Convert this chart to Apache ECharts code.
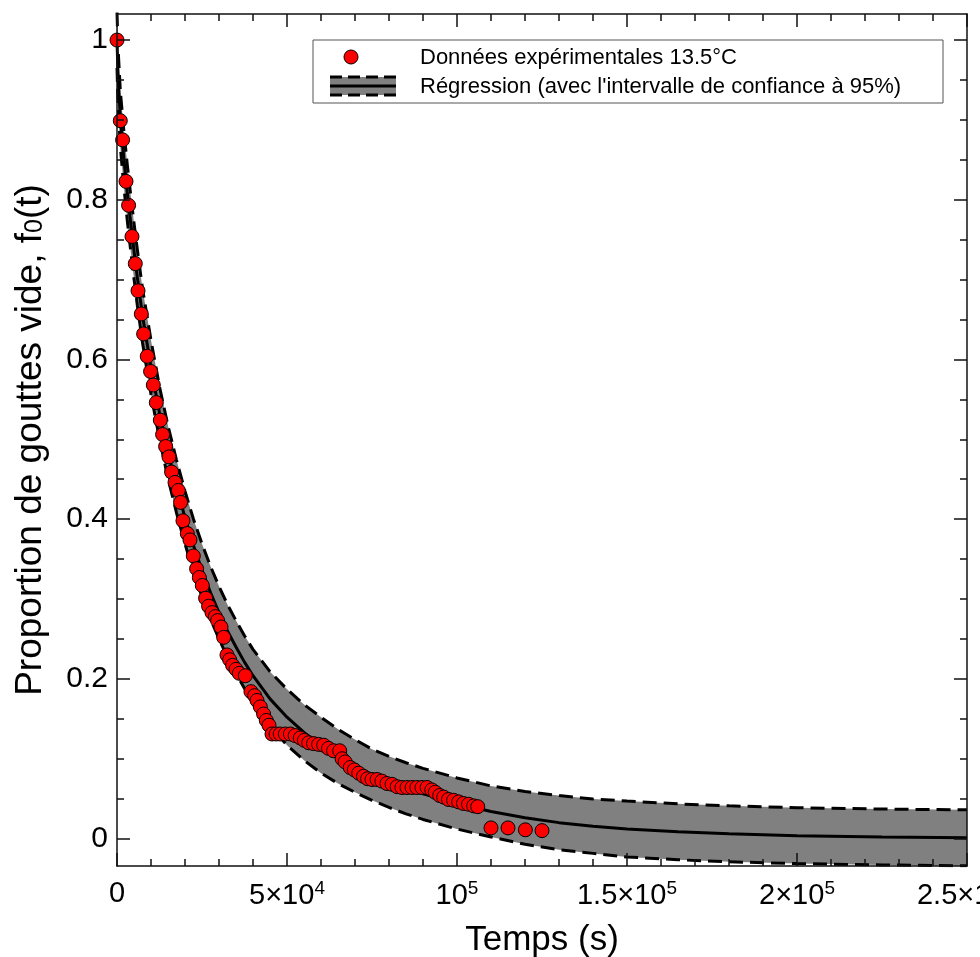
<!DOCTYPE html>
<html><head><meta charset="utf-8">
<script src="https://cdn.jsdelivr.net/npm/echarts@6/dist/echarts.min.js"></script>
<style>html,body{margin:0;padding:0;background:#fff}#c{width:980px;height:957px}</style>
</head><body><div id="c"></div>
<script>
// Experimental data (time in s, proportion of empty droplets)
const expT = [0,970,1650,2650,3410,4410,5380,6180,7150,7840,8900,9880,10680,11560,12740,13420,14300,15290,16060,17060,18030,18700,19400,20680,21470,22440,23410,24210,25090,26060,26940,27940,28910,29590,30590,31370,32350,33130,34000,35000,35970,37740,39400,40480,41180,42150,43120,43910,44700,45590,46800,48000,49500,51000,52400,53900,55100,56400,57800,59300,60800,62200,63700,65500,66200,67100,68600,69800,71100,72500,73700,75000,76500,77900,79400,80900,82400,83800,85300,86800,88200,89700,91200,92600,93600,94900,96100,97500,99000,100500,101900,103400,104900,106100,110000,115000,120100,125000];
const expF = [1.000,0.899,0.875,0.823,0.793,0.754,0.720,0.686,0.657,0.632,0.604,0.585,0.568,0.546,0.524,0.506,0.491,0.478,0.459,0.446,0.436,0.421,0.398,0.382,0.374,0.354,0.338,0.327,0.317,0.301,0.291,0.283,0.278,0.273,0.265,0.252,0.230,0.224,0.217,0.212,0.207,0.204,0.184,0.179,0.173,0.165,0.156,0.148,0.142,0.131,0.131,0.131,0.131,0.131,0.129,0.126,0.123,0.120,0.119,0.118,0.117,0.113,0.110,0.110,0.100,0.096,0.089,0.086,0.082,0.078,0.075,0.074,0.074,0.072,0.069,0.068,0.065,0.064,0.064,0.064,0.064,0.064,0.064,0.061,0.058,0.054,0.052,0.049,0.048,0.046,0.044,0.043,0.041,0.040,0.0134,0.0134,0.0110,0.0100];

// Regression curve and 95% confidence band
const fitT     = [0,250,500,1000,2000,3000,4000,5000,6000,7500,10000,12500,15000,17500,20000,22500,25000,27500,30000,32500,35000,37500,40000,45000,50000,55000,60000,65000,70000,75000,80000,85000,90000,95000,100000,110000,120000,130000,140000,150000,165000,180000,200000,225000,250000];
const fitF     = [1.000,0.962,0.940,0.900,0.852,0.810,0.772,0.736,0.702,0.655,0.590,0.533,0.484,0.441,0.402,0.367,0.336,0.308,0.283,0.260,0.240,0.221,0.204,0.175,0.152,0.133,0.117,0.103,0.091,0.080,0.071,0.063,0.056,0.050,0.044,0.034,0.026,0.020,0.0155,0.012,0.0085,0.006,0.0037,0.002,0.001];
const fitUpper = [1.035,0.997,0.975,0.935,0.887,0.845,0.807,0.771,0.737,0.689,0.624,0.566,0.517,0.474,0.435,0.400,0.369,0.341,0.316,0.293,0.273,0.254,0.237,0.209,0.187,0.168,0.152,0.137,0.124,0.112,0.103,0.095,0.088,0.082,0.076,0.066,0.059,0.054,0.0495,0.047,0.0435,0.041,0.0387,0.037,0.036];
const fitLower = [0.965,0.927,0.905,0.865,0.817,0.775,0.737,0.701,0.667,0.621,0.556,0.500,0.451,0.408,0.369,0.334,0.303,0.275,0.250,0.227,0.207,0.188,0.171,0.141,0.117,0.098,0.082,0.069,0.058,0.048,0.039,0.031,0.024,0.018,0.012,0.002,-0.007,-0.014,-0.0185,-0.023,-0.0265,-0.029,-0.0313,-0.033,-0.034];

// Axis ticks
const xTickValues = [0,50000,100000,150000,200000,250000];
const xTickLabels = ['0','5×10^4','10^5','1.5×10^5','2×10^5','2.5×10^5'];
const yTickValues = [0,0.2,0.4,0.6,0.8,1];
const yTickLabels = ['0','0.2','0.4','0.6','0.8','1'];
const yMinorValues = [0.05,0.1,0.15,0.25,0.3,0.35,0.45,0.5,0.55,0.65,0.7,0.75,0.85,0.9,0.95];

const FONT = '"Liberation Sans", Arial, sans-serif';
const Y_MIN = -0.0343, Y_MAX = 1.0326;

function xLabel(v){
  const i = xTickValues.indexOf(v);
  if (i < 0) return '';
  const s = xTickLabels[i];
  if (s.indexOf('^') < 0) return '{b|' + s + '}';
  const p = s.split('^');
  return '{b|' + p[0] + '}{s|' + p[1] + '}';
}
const xRich = {
  b: {fontSize: 29, fontFamily: FONT, color: '#000'},
  s: {fontSize: 19, fontFamily: FONT, color: '#000', padding: [0, 0, 14, 0]}
};
function yLabel(v){
  const i = yTickValues.findIndex(t => Math.abs(t - v) < 1e-9);
  return i < 0 ? '' : yTickLabels[i];
}

const axisLineStyle = {color: '#111', width: 1.5};

function yAx(pos, major, showLabel, name){
  return {
    type: 'value', position: pos, min: Y_MIN, max: Y_MAX, z: 10,
    splitLine: {show: false},
    axisLine: {show: major, onZero: false, lineStyle: axisLineStyle},
    axisTick: {show: true, inside: true, length: major ? 13 : 7, lineStyle: axisLineStyle,
               customValues: major ? yTickValues : yMinorValues},
    axisLabel: {show: showLabel, customValues: yTickValues, formatter: yLabel,
                fontSize: 30, fontFamily: FONT, color: '#000', margin: 9},
    name: name || '',
    nameLocation: 'middle', nameGap: 68, nameRotate: 90,
    nameTextStyle: {fontSize: 37, fontFamily: FONT, color: '#000',
      rich: {n: {fontSize: 37, fontFamily: FONT, color: '#000'},
             sub: {fontSize: 25, fontFamily: FONT, color: '#000', padding: [10, 0, 0, 0]}}}
  };
}
function xAx(pos, showLabel, name){
  return {
    type: 'value', position: pos, min: 0, max: 250000, interval: 50000, z: 10,
    splitLine: {show: false},
    axisLine: {show: true, onZero: false, lineStyle: axisLineStyle},
    axisTick: {show: true, inside: true, length: 13, lineStyle: axisLineStyle},
    minorTick: {show: true, splitNumber: 5, length: 7, lineStyle: axisLineStyle},
    axisLabel: {show: showLabel, formatter: xLabel, rich: xRich, margin: 13,
                fontSize: 29, fontFamily: FONT, color: '#000'},
    name: name || '', nameLocation: 'middle', nameGap: 57,
    nameTextStyle: {fontSize: 35, fontFamily: FONT, color: '#000'}
  };
}

const chart = echarts.init(document.getElementById('c'), null, {renderer: 'canvas'});

chart.setOption({
  animation: false,
  backgroundColor: '#fff',
  grid: {left: 117, right: 13, top: 14, bottom: 91, containLabel: false, outerBoundsMode: 'none'},
  xAxis: [xAx('bottom', true, 'Temps (s)'), xAx('top', false)],
  yAxis: [
    yAx('left', true, true, '{n|Proportion de gouttes vide, f}{sub|0}{n|(t)}'),
    yAx('left', false, false),
    yAx('right', true, false),
    yAx('right', false, false)
  ],
  series: [
    // grey confidence band: fill under upper bound, then white under lower bound
    {type: 'line', data: fitT.map((t, i) => [t, fitUpper[i]]), symbol: 'none',
     lineStyle: {opacity: 0}, areaStyle: {color: '#808080', opacity: 1, origin: 'start'}, silent: true, z: 1},
    {type: 'line', data: fitT.map((t, i) => [t, fitLower[i]]), symbol: 'none',
     lineStyle: {opacity: 0}, areaStyle: {color: '#ffffff', opacity: 1, origin: 'start'}, silent: true, z: 1},
    {type: 'line', data: fitT.map((t, i) => [t, fitUpper[i]]), symbol: 'none',
     lineStyle: {color: '#000', width: 3, type: [14, 7]}, z: 2},
    {type: 'line', data: fitT.map((t, i) => [t, fitLower[i]]), symbol: 'none',
     lineStyle: {color: '#000', width: 3, type: [14, 7]}, z: 2},
    {type: 'line', data: fitT.map((t, i) => [t, fitF[i]]), symbol: 'none',
     lineStyle: {color: '#000', width: 3}, z: 3},
    {type: 'scatter', data: expT.map((t, i) => [t, expF[i]]), symbolSize: 14,
     itemStyle: {color: '#ff0000', borderColor: '#000', borderWidth: 1, opacity: 1}, z: 5}
  ],
  graphic: [
    {type: 'rect', z: 100, shape: {x: 313, y: 40, width: 630, height: 63},
     style: {fill: '#fff', stroke: '#555', lineWidth: 1}},
    {type: 'circle', z: 101, shape: {cx: 351, cy: 57, r: 7},
     style: {fill: '#ff0000', stroke: '#000', lineWidth: 1}},
    {type: 'rect', z: 101, shape: {x: 330, y: 77, width: 66, height: 18}, style: {fill: '#808080'}},
    {type: 'line', z: 102, shape: {x1: 330, y1: 77, x2: 396, y2: 77},
     style: {stroke: '#000', lineWidth: 3, lineDash: [12, 6]}},
    {type: 'line', z: 102, shape: {x1: 330, y1: 95, x2: 396, y2: 95},
     style: {stroke: '#000', lineWidth: 3, lineDash: [12, 6]}},
    {type: 'line', z: 102, shape: {x1: 330, y1: 86, x2: 396, y2: 86},
     style: {stroke: '#000', lineWidth: 3}},
    {type: 'text', z: 102, x: 420, y: 58, style: {text: 'Données expérimentales 13.5°C',
     font: '22px ' + FONT, fill: '#000', verticalAlign: 'middle'}},
    {type: 'text', z: 102, x: 420, y: 87, style: {text: "Régression (avec l'intervalle de confiance à 95%)",
     font: '22px ' + FONT, fill: '#000', verticalAlign: 'middle'}}
  ]
});
</script></body></html>
